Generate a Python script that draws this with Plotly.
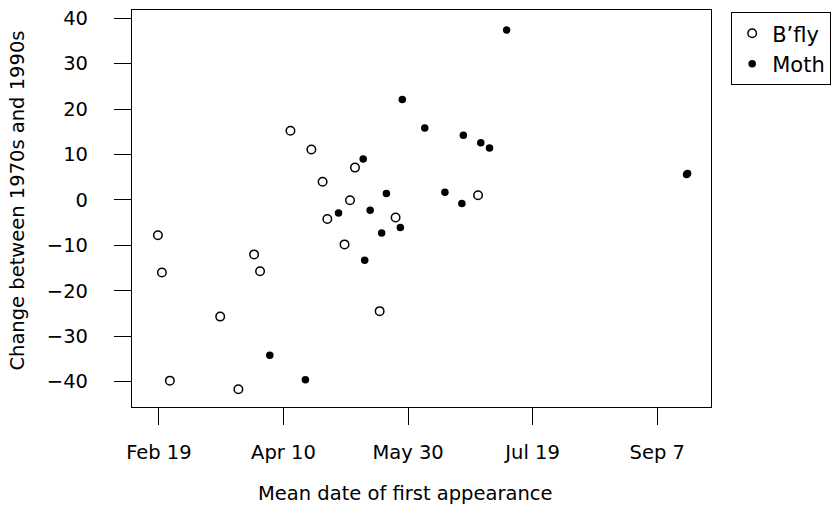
import plotly.graph_objects as go

# Day-of-year of mean first appearance and change (days) between 1970s and 1990s
bfly_day = [49.6, 51.2, 54.4, 74.6, 81.9, 88.2, 90.6, 102.8, 111.2, 115.7, 117.6,
            124.5, 126.7, 128.7, 138.6, 145.0, 178.1]
bfly_change = [-7.8, -16.0, -39.8, -25.7, -41.7, -12.0, -15.7, 15.2, 11.1, 4.0, -4.2,
               -9.8, -0.1, 7.1, -24.5, -3.9, 1.0]

moth_day = [94.5, 108.8, 122.1, 132.0, 132.6, 134.8, 139.4, 141.3, 146.9, 147.7,
            156.7, 164.8, 171.6, 172.2, 179.2, 182.7, 189.6, 261.8, 262.2]
moth_change = [-34.2, -39.6, -2.9, 9.0, -13.3, -2.3, -7.3, 1.4, -6.1, 22.1,
               15.8, 1.7, -0.8, 14.2, 12.6, 11.4, 37.4, 5.6, 5.8]

x_tickvals = [50, 100, 150, 200, 250]
x_ticktext = ["Feb 19", "Apr 10", "May 30", "Jul 19", "Sep 7"]
y_tickvals = [-40, -30, -20, -10, 0, 10, 20, 30, 40]

FONT = "DejaVu Sans"
FS = 19.5

fig = go.Figure()
fig.add_trace(go.Scatter(
    x=bfly_day, y=bfly_change, mode="markers", name="B\u2019fly",
    marker=dict(symbol="circle-open", size=8.5, color="black", line=dict(width=1.5, color="black")),
))
fig.add_trace(go.Scatter(
    x=moth_day, y=moth_change, mode="markers", name="Moth",
    marker=dict(symbol="circle", size=7.5, color="black"),
))

axis_common = dict(
    showgrid=False, zeroline=False, showline=True, linecolor="black", linewidth=1.2,
    mirror=True, ticks="outside", ticklen=17, tickwidth=1.2, tickcolor="black",
    tickfont=dict(family=FONT, size=FS, color="black"),
)

fig.update_xaxes(range=[39.2, 271.6], tickvals=x_tickvals, ticktext=x_ticktext,
                 ticklabelstandoff=10, **axis_common)
fig.update_yaxes(range=[-45.6, 41.8], tickvals=y_tickvals,
                 ticklabelstandoff=22, **axis_common)

fig.add_annotation(text="Change between 1970s and 1990s", xref="paper", yref="paper",
                   x=0, y=0.52, xshift=-114, textangle=-90, showarrow=False,
                   xanchor="center", yanchor="middle",
                   font=dict(family=FONT, size=FS, color="black"))
fig.add_annotation(text="Mean date of first appearance", xref="paper", yref="paper",
                   x=0.472, y=0, yshift=-86, showarrow=False,
                   xanchor="center", yanchor="middle",
                   font=dict(family=FONT, size=FS, color="black"))

fig.update_layout(
    width=838, height=512,
    margin=dict(l=132, r=126, t=7, b=105),
    paper_bgcolor="white", plot_bgcolor="white",
    showlegend=True,
    legend=dict(x=1.0345, y=0.995, xanchor="left", yanchor="top",
                bordercolor="black", borderwidth=1.2, bgcolor="white",
                font=dict(family=FONT, size=21, color="black")),
)

fig.write_html("out.html")
